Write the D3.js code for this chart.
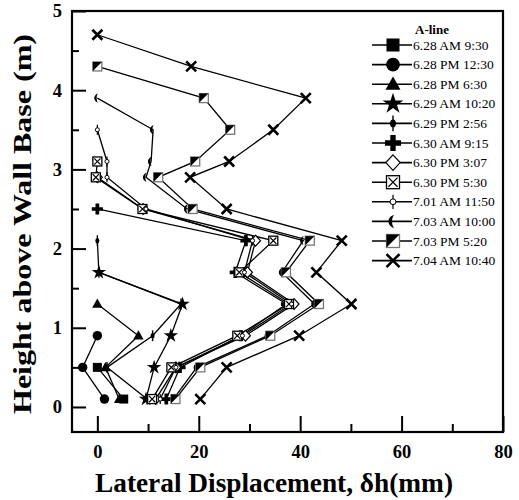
<!DOCTYPE html>
<head>
  <meta charset="utf-8">
  <script src="https://d3js.org/d3.v7.min.js"></script>
  <style>
body { margin: 0; background: #fff; }
svg { display: block; }
text { font-family: "Liberation Serif", "Times New Roman", serif; }
  </style>
</head>
<body>
<svg width="519" height="500"></svg>
<script>
// heights (m) of the readings, top to bottom
var heights = [4.7, 4.3, 3.9, 3.5, 3.1, 2.9, 2.5, 2.1, 1.7, 1.3, 0.9, 0.5, 0.1];

// lateral displacement (mm) per reading, starting at the top reading of each date
var d0628am = [0, 5.2];
var d0628pm1 = [0, -2.9, 1.4];
var d0628pm2 = [0, 8.1, 1.6, 4.3];
var d0629am = [0.3, 16.8, 14.5, 11.2, 9.6];
var d0629pm = [0, 0.3, 16.5, 10.9, 1.9, 9.8];
var d0630am = [0, 29.3, 27.2, 37.3, 28.3, 16.3, 13.6];
var d0630pm1 = [0, 9.0, 31.2, 29.6, 38.8, 29.2, 15.5, 11.5];
var d0630pm2 = [0, -0.3, 8.9, 34.7, 28.0, 37.8, 27.6, 14.6, 10.8];
var d0701am = [0, 1.9, 1.9, 9.6, 30.6, 29.0, 38.3, 28.6, 15.5, 12.4];
var d0703am = [0, 11.0, 10.6, 9.6, 17.7, 40.6, 36.4, 42.8, 33.6, 19.6, 15.0];
var d0703pm = [0, 21.0, 26.2, 19.3, 12.0, 18.8, 41.9, 37.2, 43.7, 34.1, 20.3, 15.4];
var d0704am = [0, 18.5, 41.1, 34.7, 26.0, 18.3, 25.5, 48.2, 43.2, 50.1, 39.8, 25.5, 20.3];

var labels = ["6.28 AM 9:30", "6.28 PM 12:30", "6.28 PM 6:30", "6.29 AM 10:20",
              "6.29 PM 2:56", "6.30 AM 9:15", "6.30 PM 3:07", "6.30 PM 5:30",
              "7.01 AM 11:50", "7.03 AM 10:00", "7.03 PM 5:20", "7.04 AM 10:40"];
var markers = ["square", "circle", "triangle", "star", "lens", "plus",
               "diamond", "boxx", "ocircle", "crescent", "half", "x"];
var values = [d0628am, d0628pm1, d0628pm2, d0629am, d0629pm, d0630am,
              d0630pm1, d0630pm2, d0701am, d0703am, d0703pm, d0704am];

var xTicks = [0, 20, 40, 60, 80];
var xMinor = [10, 30, 50, 70];
var yTicks = [0, 1, 2, 3, 4, 5];
var yMinor = [0.5, 1.5, 2.5, 3.5, 4.5];

var frame = {left: 72, right: 503, top: 11, bottom: 432};

var x = d3.scaleLinear().domain([-5, 80]).range([frame.left, frame.right]);
var y = d3.scaleLinear().domain([-0.316, 5]).range([frame.bottom, frame.top]);

var svg = d3.select("svg");

// series: each one uses the last n heights
var series = values.map(function(v, i) {
  var h = heights.slice(heights.length - v.length);
  return { name: labels[i], marker: markers[i],
           pts: v.map(function(d, j) { return [d, h[j]]; }) };
});

var line = d3.line().x(function(d) { return x(d[0]); }).y(function(d) { return y(d[1]); });

function marker(g, type, s) {
  if (type == "square") {
    g.append("rect").attr("x", -s).attr("y", -s).attr("width", 2 * s).attr("height", 2 * s).attr("fill", "#000");
  } else if (type == "circle") {
    g.append("circle").attr("r", s * 1.05).attr("fill", "#000");
  } else if (type == "triangle") {
    g.append("path").attr("d", "M0," + (-s * 1.2) + "L" + (s * 1.15) + "," + (s * 0.85) + "L" + (-s * 1.15) + "," + (s * 0.85) + "Z").attr("fill", "#000");
  } else if (type == "star") {
    g.append("path").attr("d", d3.symbol(d3.symbolStar, s * s * 3.2)()).attr("fill", "#000");
  } else if (type == "lens") {
    g.append("line").attr("y1", -s * 1.2).attr("y2", s * 1.2).attr("stroke", "#000").attr("stroke-width", 1.4);
    g.append("ellipse").attr("rx", s * 0.45).attr("ry", s * 0.6).attr("fill", "#000");
  } else if (type == "plus") {
    g.append("path").attr("d", d3.symbol(d3.symbolCross, s * s * 3.4)()).attr("fill", "#000");
  } else if (type == "diamond") {
    g.append("path").attr("d", "M0," + (-s * 1.2) + "L" + (s * 1.1) + ",0L0," + (s * 1.2) + "L" + (-s * 1.1) + ",0Z")
      .attr("fill", "#fff").attr("stroke", "#000").attr("stroke-width", 1.2);
  } else if (type == "boxx") {
    g.append("rect").attr("x", -s).attr("y", -s).attr("width", 2 * s).attr("height", 2 * s)
      .attr("fill", "#fff").attr("stroke", "#000").attr("stroke-width", 1.3);
    g.append("path").attr("d", "M" + (-s * 0.7) + "," + (-s * 0.7) + "L" + (s * 0.7) + "," + (s * 0.7) +
      "M" + (s * 0.7) + "," + (-s * 0.7) + "L" + (-s * 0.7) + "," + (s * 0.7)).attr("stroke", "#000").attr("stroke-width", 1.2);
  } else if (type == "ocircle") {
    g.append("line").attr("y1", -s * 1.1).attr("y2", s * 1.1).attr("stroke", "#000").attr("stroke-width", 1.2);
    g.append("circle").attr("r", s * 0.45).attr("fill", "#fff").attr("stroke", "#000").attr("stroke-width", 1);
  } else if (type == "crescent") {
    g.append("path").attr("transform", "translate(" + (s * 0.3) + ",0)")
      .attr("d", "M0," + (-s) + "A" + s + "," + s + " 0 0 0 0," + s + "A" + (s * 0.45) + "," + s + " 0 0 1 0," + (-s) + "Z")
      .attr("fill", "#000");
  } else if (type == "half") {
    g.append("rect").attr("x", -s).attr("y", -s).attr("width", 2 * s).attr("height", 2 * s)
      .attr("fill", "#fff").attr("stroke", "#777").attr("stroke-width", 1.3);
    g.append("path").attr("d", "M" + (-s) + "," + (-s) + "L" + s + "," + (-s) + "L" + (-s) + "," + s + "Z").attr("fill", "#000");
  } else if (type == "x") {
    g.append("path").attr("d", "M" + (-s) + "," + (-s) + "L" + s + "," + s + "M" + s + "," + (-s) + "L" + (-s) + "," + s)
      .attr("stroke", "#000").attr("stroke-width", 2.6);
  }
}

// lines first, then markers on top
var plot = svg.append("g");
series.forEach(function(sr) {
  plot.append("path").attr("d", line(sr.pts)).attr("fill", "none")
    .attr("stroke", "#000").attr("stroke-width", 1.3);
});
series.forEach(function(sr) {
  sr.pts.forEach(function(p) {
    var g = plot.append("g").attr("transform", "translate(" + x(p[0]) + "," + y(p[1]) + ")");
    marker(g, sr.marker, sr.marker == "x" ? 5 : 4.5);
  });
});

// axes, ticks pointing in
svg.append("g").attr("transform", "translate(0," + frame.bottom + ")")
  .call(d3.axisBottom(x).tickValues(xTicks).tickSize(-16).tickPadding(13).tickFormat(d3.format("d")));
svg.append("g").attr("transform", "translate(0," + frame.bottom + ")")
  .call(d3.axisBottom(x).tickValues(xMinor).tickSize(-8).tickFormat(""));
svg.append("g").attr("transform", "translate(" + frame.left + ",0)")
  .call(d3.axisLeft(y).tickValues(yTicks).tickSize(-14).tickPadding(10).tickFormat(d3.format("d")));
svg.append("g").attr("transform", "translate(" + frame.left + ",0)")
  .call(d3.axisLeft(y).tickValues(yMinor).tickSize(-7).tickFormat(""));

svg.selectAll(".domain").remove();
svg.selectAll(".tick line").attr("stroke", "#000").attr("stroke-width", 2);
svg.selectAll(".tick text").attr("font-family", "Liberation Serif").attr("font-weight", "bold")
  .attr("font-size", 18.5).attr("fill", "#000");

svg.append("rect").attr("x", frame.left).attr("y", frame.top)
  .attr("width", frame.right - frame.left).attr("height", frame.bottom - frame.top)
  .attr("fill", "none").attr("stroke", "#000").attr("stroke-width", 2.2);

svg.append("text").attr("x", 274).attr("y", 492).attr("text-anchor", "middle")
  .attr("font-weight", "bold").attr("font-size", 27)
  .attr("textLength", 358).attr("lengthAdjust", "spacingAndGlyphs")
  .text("Lateral Displacement, \u03b4h(mm)");

svg.append("text").attr("transform", "translate(31,224) rotate(-90)").attr("text-anchor", "middle")
  .attr("font-weight", "bold").attr("font-size", 26)
  .attr("textLength", 380).attr("lengthAdjust", "spacingAndGlyphs")
  .text("Height above Wall Base (m)");

// legend
var leg = svg.append("g");
leg.append("text").attr("x", 415).attr("y", 34).attr("font-size", 13).attr("font-weight", "bold").text("A-line");
series.forEach(function(sr, i) {
  var ly = 45 + i * 19.6;
  leg.append("line").attr("x1", 372).attr("x2", 412).attr("y1", ly).attr("y2", ly)
    .attr("stroke", "#000").attr("stroke-width", 1.6);
  var g = leg.append("g").attr("transform", "translate(393," + ly + ")");
  marker(g, sr.marker, 6.5);
  leg.append("text").attr("x", 413).attr("y", ly + 4.5).attr("font-size", 13.5).text(sr.name);
});
</script>
</body>
